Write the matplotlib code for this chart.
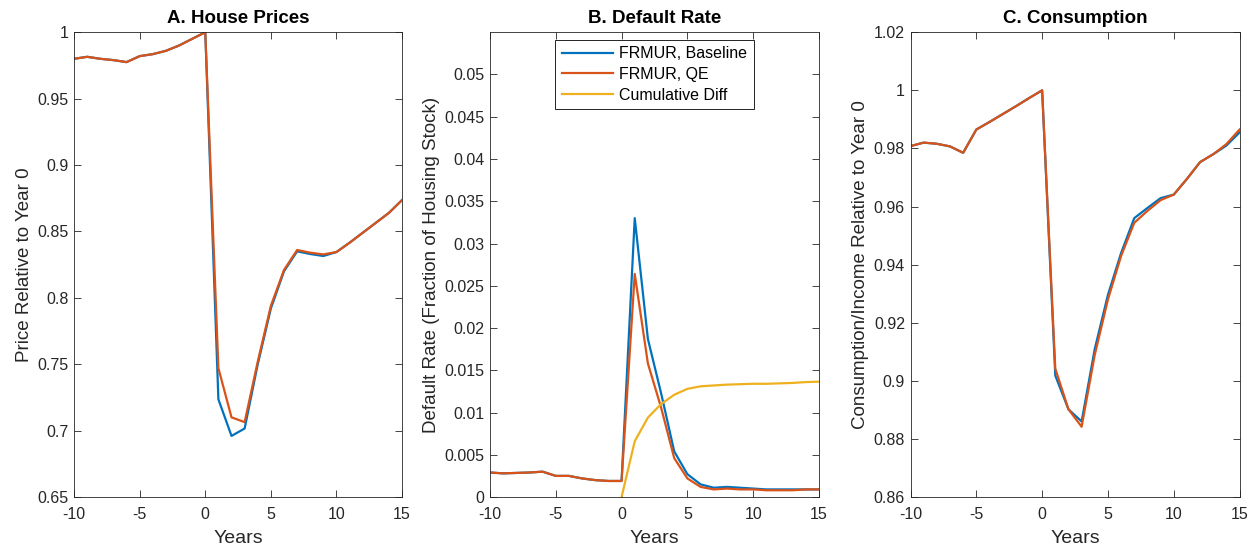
import matplotlib
matplotlib.use("Agg")
import matplotlib.pyplot as plt
from matplotlib.ticker import FuncFormatter
import numpy as np

plt.rcParams['font.family'] = ['Liberation Sans', 'DejaVu Sans']
plt.rcParams['axes.unicode_minus'] = False

years = list(range(-10, 16))
years_diff = list(range(0, 16))

# A. House prices
price_base = [0.980, 0.9815, 0.980, 0.979, 0.9775, 0.982, 0.9835, 0.986, 0.990, 0.995, 1.000,
              0.7236, 0.696, 0.7016, 0.750, 0.792, 0.820, 0.835, 0.833, 0.8315, 0.8345,
              0.8415, 0.849, 0.8565, 0.864, 0.8737]
price_qe = [0.980, 0.9815, 0.980, 0.979, 0.9775, 0.982, 0.9835, 0.986, 0.990, 0.995, 1.000,
            0.747, 0.710, 0.7064, 0.752, 0.794, 0.821, 0.836, 0.834, 0.8327, 0.8345,
            0.8415, 0.849, 0.8565, 0.864, 0.8737]

# B. Default rate
default_base = [0.0029, 0.0028, 0.00285, 0.0029, 0.0030, 0.0025, 0.0025, 0.0022, 0.0020, 0.0019, 0.0019,
                0.0330, 0.0187, 0.0123, 0.0054, 0.0027, 0.0015, 0.0011, 0.0012, 0.0011, 0.0010,
                0.0009, 0.0009, 0.0009, 0.0009, 0.0009]
default_qe = [0.0029, 0.0028, 0.00285, 0.0029, 0.0030, 0.0025, 0.0025, 0.0022, 0.0020, 0.0019, 0.0019,
              0.0264, 0.0158, 0.0106, 0.0046, 0.0022, 0.0012, 0.0009, 0.0010, 0.0009, 0.0009,
              0.0008, 0.0008, 0.0008, 0.0009, 0.0009]
cum_diff = [0.0, 0.0066, 0.0094, 0.0110, 0.0121, 0.0128, 0.0131, 0.0132, 0.0133, 0.01335, 0.0134,
            0.0134, 0.01345, 0.0135, 0.0136, 0.01365]

# C. Consumption
cons_base = [0.9808, 0.982, 0.9816, 0.9807, 0.9785, 0.9865, 0.9891, 0.9918, 0.9945, 0.9973, 1.000,
             0.9018, 0.8902, 0.886, 0.911, 0.9296, 0.944, 0.956, 0.9595, 0.9629, 0.9641,
             0.9695, 0.9753, 0.978, 0.981, 0.9855]
cons_qe = [0.9808, 0.982, 0.9816, 0.9807, 0.9785, 0.9865, 0.9891, 0.9918, 0.9945, 0.9973, 1.000,
           0.9042, 0.8902, 0.8842, 0.909, 0.928, 0.943, 0.9544, 0.9585, 0.9622, 0.9641,
           0.9695, 0.9753, 0.978, 0.9815, 0.9865]

BLUE = '#0072BD'
ORANGE = '#D95319'
YELLOW = '#EDB120'
AXCOL = '#262626'

fmt = FuncFormatter(lambda v, p: '%g' % round(v, 6))


def style_axes(ax, title, ylabel, ylim, yticks):
    ax.set_xlim(-10, 15)
    ax.set_xticks([-10, -5, 0, 5, 10, 15])
    ax.set_ylim(*ylim)
    ax.set_yticks(yticks)
    ax.yaxis.set_major_formatter(fmt)
    ax.tick_params(direction='in', top=True, right=True, length=5, width=0.6,
                   labelsize=11.5, colors=AXCOL)
    ax.tick_params(axis='x', pad=7)
    ax.tick_params(axis='y', pad=4)
    for s in ax.spines.values():
        s.set_color(AXCOL)
        s.set_linewidth(0.6)
    ax.set_title(title, fontsize=13.5, fontweight='bold', pad=7)
    ax.set_xlabel('Years', fontsize=14, color=AXCOL, labelpad=6)
    ax.set_ylabel(ylabel, fontsize=13.5, color=AXCOL, labelpad=3)


fig = plt.figure(figsize=(12.55, 5.52), dpi=100)
axA = fig.add_axes([0.059, 0.0996, 0.2614, 0.842])
axB = fig.add_axes([0.3904, 0.0996, 0.2622, 0.842])
axC = fig.add_axes([0.7255, 0.0996, 0.2622, 0.842])

axA.plot(years, price_base, color=BLUE, lw=1.6)
axA.plot(years, price_qe, color=ORANGE, lw=1.6)
style_axes(axA, 'A. House Prices', 'Price Relative to Year 0', (0.65, 1.0),
           np.arange(0.65, 1.001, 0.05))

axB.plot(years, default_base, color=BLUE, lw=1.6, label='FRMUR, Baseline')
axB.plot(years, default_qe, color=ORANGE, lw=1.6, label='FRMUR, QE')
axB.plot(years_diff, cum_diff, color=YELLOW, lw=1.6, label='Cumulative Diff')
style_axes(axB, 'B. Default Rate', 'Default Rate (Fraction of Housing Stock)', (0, 0.055),
           np.arange(0, 0.0501, 0.005))
leg = axB.legend(loc='upper center', bbox_to_anchor=(0.5, 0.99), fontsize=11.5,
                 fancybox=False, framealpha=1, edgecolor='black', handlelength=3.2,
                 borderpad=0.4, labelspacing=0.35, handletextpad=0.4, borderaxespad=0.2)
leg.get_frame().set_linewidth(0.6)

axC.plot(years, cons_base, color=BLUE, lw=1.6)
axC.plot(years, cons_qe, color=ORANGE, lw=1.6)
style_axes(axC, 'C. Consumption', 'Consumption/Income Relative to Year 0', (0.86, 1.02),
           np.arange(0.86, 1.0201, 0.02))

fig.savefig('out.png', dpi=100)
